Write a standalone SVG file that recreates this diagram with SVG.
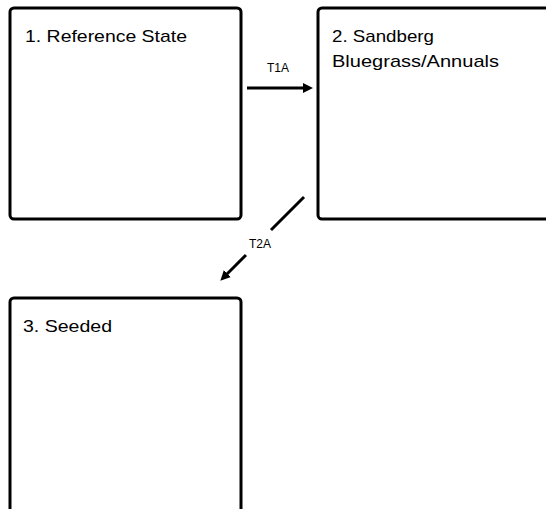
<svg xmlns="http://www.w3.org/2000/svg" width="546" height="509" viewBox="0 0 546 509">
<style>
.box{fill:#fff;stroke:#000;stroke-width:3}
.t{font-family:"Liberation Sans",Arial,sans-serif;font-size:17px;fill:#000}
.lbl{font-family:"Liberation Sans",Arial,sans-serif;font-size:12px;fill:#000;text-anchor:middle}
.c{stroke:#000;stroke-width:3;fill:none}
</style>
<defs>
<marker id="ah" markerWidth="10" markerHeight="10" refX="2" refY="5" orient="auto" markerUnits="userSpaceOnUse" viewBox="0 0 10 10">
<path d="M0,0 L10,5 L0,10 Z" fill="#000"/>
</marker>
</defs>
<rect width="546" height="509" fill="#fff"/>
<g id="node1">
<rect class="box" x="10" y="8" width="231" height="211" rx="4"/>
<text class="t" x="25" y="41.5" textLength="162" lengthAdjust="spacingAndGlyphs">1. Reference State</text>
</g>
<g id="node2">
<rect class="box" x="318" y="8" width="240" height="211" rx="4"/>
<text class="t" x="332" y="41.5" textLength="102" lengthAdjust="spacingAndGlyphs">2. Sandberg</text>
<text class="t" x="332" y="66.5" textLength="167" lengthAdjust="spacingAndGlyphs">Bluegrass/Annuals</text>
</g>
<g id="node3">
<rect class="box" x="10" y="298" width="231" height="230" rx="4"/>
<text class="t" x="23" y="331.5" textLength="89" lengthAdjust="spacingAndGlyphs">3. Seeded</text>
</g>
<g id="connectors">
<line class="c" x1="247" y1="88" x2="305" y2="88" marker-end="url(#ah)"/>
<text class="lbl" x="278" y="72">T1A</text>
<line class="c" x1="304" y1="197" x2="271" y2="230"/>
<line class="c" x1="246" y1="255" x2="226" y2="275" marker-end="url(#ah)"/>
<text class="lbl" x="260" y="248">T2A</text>
</g>
</svg>
